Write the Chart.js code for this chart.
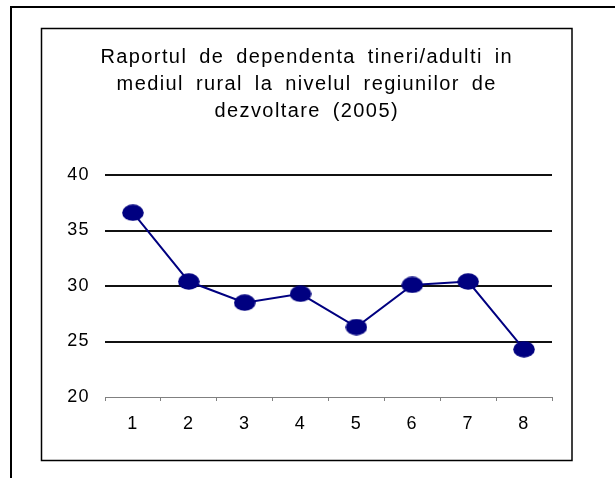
<!DOCTYPE html>
<html>
<head>
<meta charset="utf-8">
<script src="https://cdn.jsdelivr.net/npm/chart.js@4/dist/chart.umd.min.js"></script>
<style>
  html, body { margin: 0; padding: 0; background: #fff; }
  #wrap { position: relative; width: 615px; height: 478px; }
</style>
</head>
<body>
<div id="wrap"><canvas id="c" width="615" height="478"></canvas></div>
<script>
const categories = ['1', '2', '3', '4', '5', '6', '7', '8'];
const seriesValues = [36.6, 30.4, 28.5, 29.3, 26.3, 30.1, 30.4, 24.3];
const yTicks = [20, 25, 30, 35, 40];
const titleLines = [
  'Raportul de dependenta tineri/adulti in',
  'mediul rural la nivelul regiunilor de',
  'dezvoltare (2005)'
];

const FONT = '"Liberation Sans", Arial, Helvetica, sans-serif';
const NAVY = '#000080';

// elliptical marker
const marker = document.createElement('canvas');
marker.width = 22; marker.height = 17;
(function () {
  const m = marker.getContext('2d');
  m.fillStyle = NAVY;
  m.beginPath();
  m.ellipse(11, 8.5, 10.8, 8.2, 0, 0, Math.PI * 2);
  m.fill();
})();

const framePlugin = {
  id: 'frames',
  beforeDraw(chart) {
    const ctx = chart.ctx;
    if ('letterSpacing' in ctx) ctx.letterSpacing = '1.4px';
    if ('wordSpacing' in ctx) ctx.wordSpacing = '5px';
  },
  afterDraw(chart) {
    const ctx = chart.ctx;
    ctx.save();
    ctx.fillStyle = '#000';
    ctx.fillRect(10, 6, 2, 472);
    ctx.fillRect(10, 6, 605, 2);
    ctx.strokeStyle = '#000';
    ctx.lineWidth = 1.5;
    ctx.strokeRect(41.5, 28.5, 530.5, 432);
    ctx.restore();
  }
};

new Chart(document.getElementById('c'), {
  type: 'line',
  data: {
    labels: categories,
    datasets: [{
      data: seriesValues,
      borderColor: NAVY,
      borderWidth: 2,
      backgroundColor: NAVY,
      pointStyle: marker,
      pointRadius: 10,
      tension: 0,
      fill: false
    }]
  },
  options: {
    responsive: false,
    animation: false,
    events: [],
    layout: { padding: { left: 41.5, right: 43, top: 43.5, bottom: 21 } },
    plugins: {
      legend: { display: false },
      tooltip: { enabled: false },
      title: {
        display: true,
        text: titleLines,
        color: '#000',
        font: { family: FONT, size: 20, weight: 'normal', lineHeight: 1.35 },
        padding: { top: 0, bottom: 50.5 }
      }
    },
    scales: {
      x: {
        type: 'category',
        offset: true,
        afterFit(s) { s.height = 60; },
        grid: {
          offset: true,
          drawOnChartArea: false,
          drawTicks: true,
          tickLength: 4,
          tickColor: '#808080',
          tickWidth: 1
        },
        border: { display: true, color: '#808080', width: 1 },
        ticks: {
          color: '#000',
          padding: 12,
          font: { family: FONT, size: 18 }
        }
      },
      y: {
        min: 20,
        max: 40,
        afterFit(s) { s.width = 63.5; },
        afterBuildTicks(s) { s.ticks = yTicks.map(v => ({ value: v })); },
        grid: {
          drawTicks: false,
          lineWidth: 2,
          color: (c) => (c.tick && c.tick.value === 20) ? 'rgba(0,0,0,0)' : '#111'
        },
        border: { display: false },
        ticks: {
          color: '#000',
          padding: 15,
          font: { family: FONT, size: 18 }
        }
      },
      ySpacer: {
        position: 'right',
        min: 20,
        max: 40,
        afterFit(s) { s.width = 20; },
        grid: { display: false, drawOnChartArea: false },
        border: { display: false },
        ticks: { display: false }
      }
    }
  },
  plugins: [framePlugin]
});
</script>
</body>
</html>
